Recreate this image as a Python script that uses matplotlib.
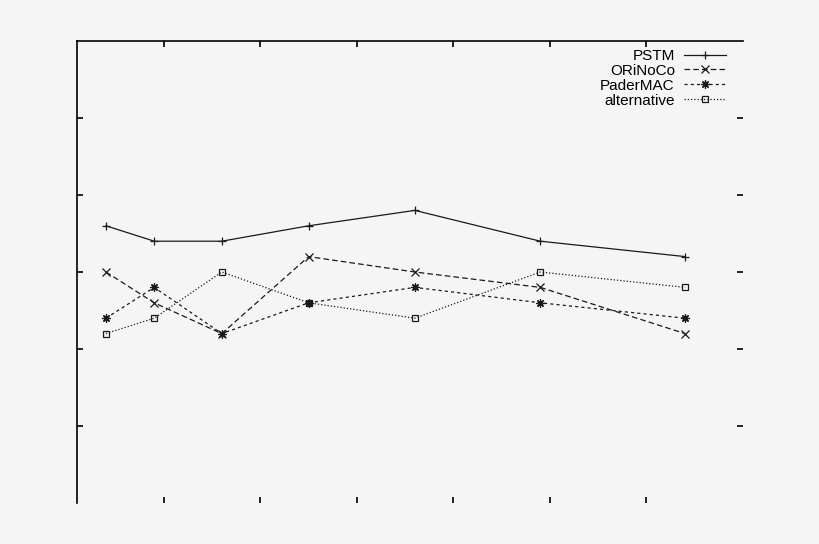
import matplotlib
matplotlib.use("Agg")
import matplotlib.pyplot as plt

plt.rcParams['font.family'] = ['Liberation Sans', 'DejaVu Sans']

x_nodes = [4, 9, 16, 25, 36, 49, 64]
pstm = [18, 17, 17, 18, 19, 17, 16]
orinoco = [15, 13, 11, 16, 15, 14, 11]
padermac = [12, 14, 11, 13, 14, 13, 12]
alternative = [11, 12, 15, 13, 12, 15, 14]
series_labels = ['PSTM', 'ORiNoCo', 'PaderMAC', 'alternative']
x_ticks = [10, 20, 30, 40, 50, 60]
y_ticks = [5, 10, 15, 20, 25]

bg = '#f5f5f5'
fig = plt.figure(figsize=(8.2, 5.44), dpi=100, facecolor=bg)
ax = fig.add_axes([77/820, 1-503/544, 666/820, 462/544], facecolor=bg)

lc = '#1a1a1a'
lw = 0.9
ax.plot(x_nodes, pstm, color=lc, lw=lw, ls='-', marker='+', ms=6, mew=0.9, label=series_labels[0])
ax.plot(x_nodes, orinoco, color=lc, lw=lw, ls=(0, (4.5, 2.5)), marker='x', ms=5.2, mew=0.9, label=series_labels[1])
ax.plot(x_nodes, padermac, color=lc, lw=lw, ls=(0, (2.5, 2.5)), marker=(8, 2, 0), ms=6, mew=0.9, label=series_labels[2])
ax.plot(x_nodes, alternative, color=lc, lw=lw, ls=(0, (1, 1.6)), marker='s', ms=5, mew=0.9, mfc='none', label=series_labels[3])

ax.set_xlim(1, 70)
ax.set_ylim(0, 30)
ax.set_xticks(x_ticks)
ax.set_yticks(y_ticks)
ax.tick_params(direction='in', length=4, width=1.4, top=True, right=True,
               labelbottom=False, labelleft=False, color='#222222')
for s in ['bottom', 'right']:
    ax.spines[s].set_visible(False)
for s in ['top', 'left']:
    ax.spines[s].set_linewidth(1.2)
    ax.spines[s].set_color('black')

leg = ax.legend(loc='upper right', bbox_to_anchor=(0.9745, 0.983), frameon=False,
                markerfirst=False, numpoints=1, fontsize=11, labelspacing=0.06,
                handlelength=2.75, handletextpad=0.6, borderpad=0, borderaxespad=0)

fig.savefig('out.png', dpi=100, facecolor=bg)
